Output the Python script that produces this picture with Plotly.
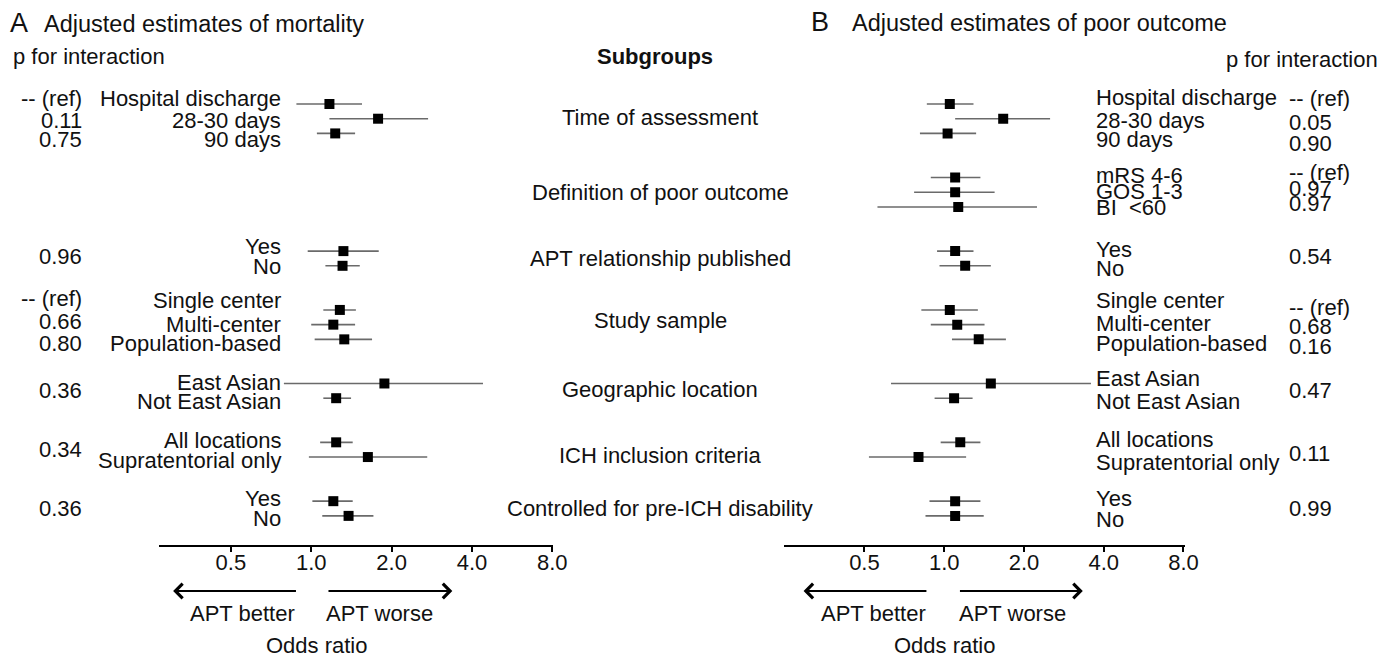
import math
import plotly.graph_objects as go

W, H = 1391, 658
W_EFF = 1376.0   # horizontal extent that the page actually shows the paper at
FONT = "Liberation Sans, Arial, sans-serif"

# ---------------- data ----------------
SLOTS = ["time|hd", "time|28", "time|90", "g1", "g2",
         "def|mrs", "def|gos", "def|bi", "g3", "g4",
         "apt|yes", "apt|no", "g5", "g6",
         "samp|single", "samp|multi", "samp|pop", "g7", "g8",
         "geo|ea", "geo|nea", "g9", "g10",
         "ich|all", "ich|supra", "g11", "g12",
         "dis|yes", "dis|no"]

A_ROWS = ["time|hd", "time|28", "time|90", "apt|yes", "apt|no",
          "samp|single", "samp|multi", "samp|pop", "geo|ea", "geo|nea",
          "ich|all", "ich|supra", "dis|yes", "dis|no"]
A_OR = [1.17, 1.78, 1.23, 1.32, 1.31, 1.28, 1.21, 1.33, 1.88, 1.24, 1.24, 1.63, 1.21, 1.38]
A_LO = [0.88, 1.17, 1.05, 0.97, 1.13, 1.11, 1.00, 1.03, 0.79, 1.11, 1.08, 0.98, 1.01, 1.10]
A_HI = [1.55, 2.74, 1.46, 1.79, 1.52, 1.47, 1.46, 1.69, 4.40, 1.41, 1.43, 2.72, 1.43, 1.71]

B_ROWS = ["time|hd", "time|28", "time|90", "def|mrs", "def|gos", "def|bi",
          "apt|yes", "apt|no", "samp|single", "samp|multi", "samp|pop",
          "geo|ea", "geo|nea", "ich|all", "ich|supra", "dis|yes", "dis|no"]
B_OR = [1.05, 1.67, 1.03, 1.10, 1.10, 1.13, 1.10, 1.20, 1.05, 1.12, 1.35, 1.50, 1.09, 1.15, 0.80, 1.10, 1.10]
B_LO = [0.86, 1.10, 0.81, 0.89, 0.77, 0.56, 0.94, 0.96, 0.82, 0.89, 1.07, 0.63, 0.92, 0.97, 0.52, 0.88, 0.85]
B_HI = [1.29, 2.51, 1.32, 1.37, 1.55, 2.24, 1.29, 1.50, 1.34, 1.42, 1.71, 3.58, 1.28, 1.37, 1.21, 1.37, 1.41]

TICK_VALS = [0.5, 1, 2, 4, 8]
TICK_TEXT = ["0.5", "1.0", "2.0", "4.0", "8.0"]

A_LABELS = ["Hospital discharge", "28-30 days", "90 days", "Yes", "No",
            "Single center", "Multi-center", "Population-based",
            "East Asian", "Not East Asian", "All locations", "Supratentorial only",
            "Yes", "No"]
A_PVALS = ["-- (ref)", "0.11", "0.75", "0.96", "-- (ref)", "0.66", "0.80", "0.36", "0.34", "0.36"]

B_LABELS = ["Hospital discharge", "28-30 days", "90 days", "mRS 4-6", "GOS 1-3", "BI\u00a0 <60",
            "Yes", "No", "Single center", "Multi-center", "Population-based",
            "East Asian", "Not East Asian", "All locations", "Supratentorial only", "Yes", "No"]
B_PVALS = ["-- (ref)", "0.05", "0.90", "-- (ref)", "0.97", "0.97", "0.54",
           "-- (ref)", "0.68", "0.16", "0.47", "0.11", "0.99"]

GROUPS = ["Time of assessment", "Definition of poor outcome", "APT relationship published",
          "Study sample", "Geographic location", "ICH inclusion criteria",
          "Controlled for pre-ICH disability"]

# ---------------- layout positions (pixels) ----------------
A_LABEL_Y = [98, 120, 139, 246, 266, 301, 324, 343, 382, 402, 440, 460, 498, 518]
A_PVAL_Y = [98, 120, 139, 256, 298, 322, 343, 390, 450, 508]
B_LABEL_Y = [97, 120, 139, 175, 191, 207, 249, 269, 300, 323, 343, 378, 401, 439, 463, 498, 519]
B_PVAL_Y = [98, 122, 143, 172, 188, 203, 256, 307, 326, 346, 390, 453, 508]
GROUP_Y = [117, 192, 258, 320, 389, 455, 508]

AXIS_Y = 545.7
TOP_PX, SLOT_PX = 104.0, 14.71


def px(x):
    return x / W_EFF


def py(y):
    return 1 - y / H


def ann(text, x, y, size=22, xanchor="left", bold=False):
    if bold:
        text = "<b>" + text + "</b>"
    return dict(text=text, x=px(x), y=py(y), xref="paper", yref="paper",
                xanchor=xanchor, yanchor="middle", showarrow=False,
                font=dict(size=size, color="#111", family=FONT))


def ci_trace(rows, lo, hi, xaxis):
    xs, ys = [], []
    for r, l, h in zip(rows, lo, hi):
        yi = SLOTS.index(r)
        xs += [l, h, None]
        ys += [yi, yi, None]
    return go.Scatter(x=xs, y=ys, mode="lines", xaxis=xaxis, yaxis="y",
                      line=dict(color="#6a6a6a", width=1.6), hoverinfo="skip",
                      showlegend=False)


def pt_trace(rows, orv, xaxis):
    return go.Scatter(x=orv, y=[SLOTS.index(r) for r in rows], mode="markers",
                      xaxis=xaxis, yaxis="y",
                      marker=dict(symbol="square", size=10, color="black",
                                  line=dict(width=0)),
                      showlegend=False)


fig = go.Figure()
fig.add_trace(ci_trace(A_ROWS, A_LO, A_HI, "x"))
fig.add_trace(pt_trace(A_ROWS, A_OR, "x"))
fig.add_trace(ci_trace(B_ROWS, B_LO, B_HI, "x2"))
fig.add_trace(pt_trace(B_ROWS, B_OR, "x2"))

# axis geometry
A_L, A_R, A_ONE, A_DBL = 159, 553, 311.0, 80.3
B_L, B_R, B_ONE, B_DBL = 783, 1184, 943.5, 79.7


def log_range(l, r, one, dbl):
    return [math.log10(2 ** ((l - one) / dbl)), math.log10(2 ** ((r - one) / dbl))]


y_top = -TOP_PX / SLOT_PX
y_bot = (H - TOP_PX) / SLOT_PX

xcommon = dict(type="log", anchor="free", position=py(AXIS_Y), showline=True,
               linecolor="black", linewidth=2, ticks="outside", ticklen=5,
               tickwidth=2, tickcolor="black", tickvals=TICK_VALS, ticktext=TICK_TEXT,
               tickfont=dict(size=22, color="#111", family=FONT),
               ticklabelstandoff=-8,
               showgrid=False, zeroline=False, fixedrange=True)

fig.update_layout(
    width=W, height=H, margin=dict(l=0, r=0, t=0, b=0, pad=0),
    autosize=False,
    paper_bgcolor="white", plot_bgcolor="rgba(0,0,0,0)",
    xaxis=dict(domain=[px(A_L), px(A_R)], range=log_range(A_L, A_R, A_ONE, A_DBL), **xcommon),
    xaxis2=dict(domain=[px(B_L), px(B_R)], range=log_range(B_L, B_R, B_ONE, B_DBL), **xcommon),
    yaxis=dict(domain=[0, 1], range=[y_bot, y_top], visible=False, showgrid=False,
               zeroline=False, fixedrange=True),
    showlegend=False,
)

shapes = []
for xr in ["x", "x2"]:
    shapes.append(dict(type="line", xref=xr, yref="paper", x0=0, x1=0,
                       y0=py(AXIS_Y), y1=py(62),
                       line=dict(color="black", width=2, dash="2px,2px")))
fig.update_layout(shapes=shapes)

anns = []
# titles
anns.append(ann("A", 8, 23, size=27))
anns.append(ann("Adjusted estimates of mortality", 42, 24, size=23.5))
anns.append(ann("B", 808, 22, size=27))
anns.append(ann("Adjusted estimates of poor outcome", 849, 23, size=23.5))
anns.append(ann("p for interaction", 11, 57))
anns.append(ann("p for interaction", 1223, 60))
anns.append(ann("Subgroups", 655, 56, xanchor="center", bold=True))

for t, y in zip(GROUPS, GROUP_Y):
    anns.append(ann(t, 660, y, xanchor="center"))
for t, y in zip(A_LABELS, A_LABEL_Y):
    anns.append(ann(t, 283, y, xanchor="right"))
for t, y in zip(A_PVALS, A_PVAL_Y):
    anns.append(ann(t, 84, y, xanchor="right"))
for t, y in zip(B_LABELS, B_LABEL_Y):
    anns.append(ann(t, 1093, y))
for t, y in zip(B_PVALS, B_PVAL_Y):
    anns.append(ann(t, 1286, y))

# arrows and direction labels
ARROW_Y = 591
for (tip, tail) in [(173, 296), (452, 328), (803, 926), (1082, 959)]:
    anns.append(dict(x=px(tip), y=py(ARROW_Y), xref="paper", yref="paper",
                     ax=(tail - tip) * W / W_EFF, ay=0, axref="pixel", ayref="pixel",
                     text="", showarrow=True, arrowhead=4, arrowsize=1.4,
                     arrowwidth=2, arrowcolor="black", standoff=0, startstandoff=0))
anns.append(ann("APT better", 242, 613, xanchor="center"))
anns.append(ann("APT worse", 379, 613, xanchor="center"))
anns.append(ann("APT better", 873, 613, xanchor="center"))
anns.append(ann("APT worse", 1012, 613, xanchor="center"))
anns.append(ann("Odds ratio", 317, 645, xanchor="center"))
anns.append(ann("Odds ratio", 944, 645, xanchor="center"))

fig.update_layout(annotations=anns)

fig.write_html("out.html", config={"displayModeBar": False})
